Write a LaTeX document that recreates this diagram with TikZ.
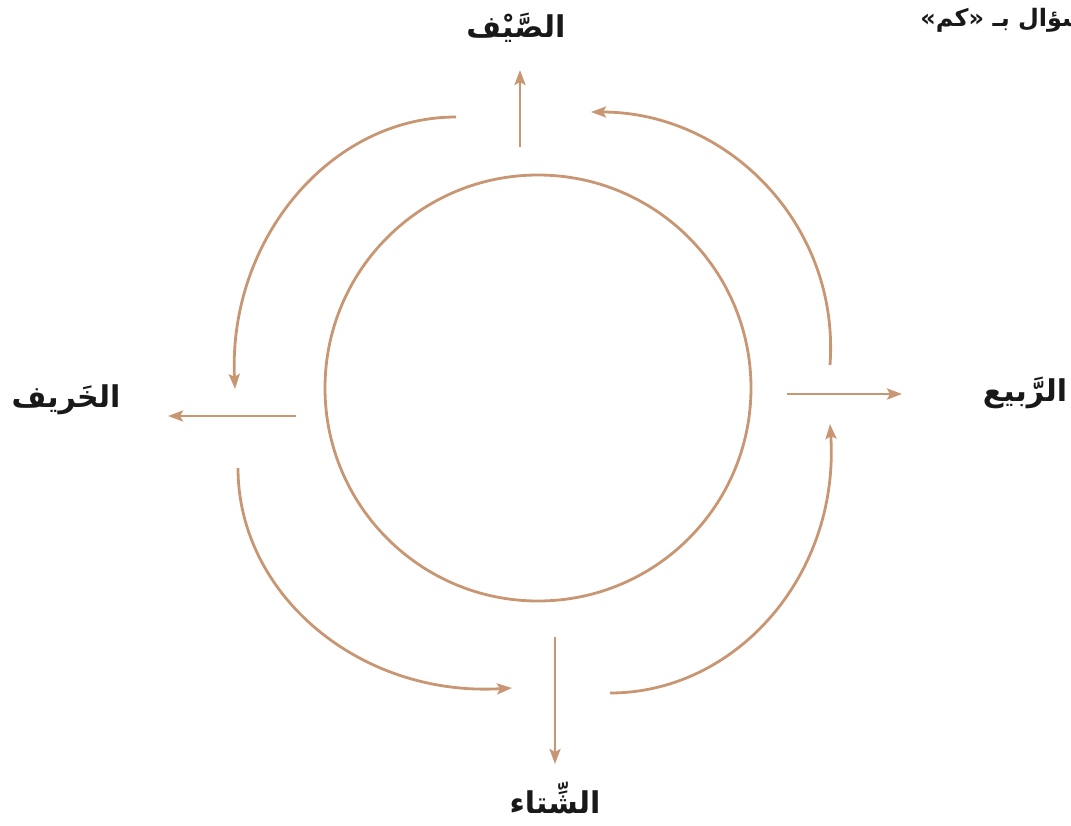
\documentclass[tikz,border=0pt]{standalone}
\usepackage{fontspec}
\usetikzlibrary{arrows.meta}
\TeXXeTstate=1
\newfontfamily\arabicfont[Script=Arabic]{DejaVu Sans}
\definecolor{tan}{RGB}{200,150,114}
\tikzset{
  ring/.style={draw=tan, line width=2.8pt},
  link/.style={draw=tan, line width=2.8pt, -{Stealth[length=15pt,width=11pt,inset=3pt]}},
  season/.style={font=\arabicfont\bfseries\fontsize{30}{36}\selectfont, inner sep=0pt, text=black!90},
  note/.style={font=\arabicfont\bfseries\fontsize{24}{28}\selectfont, inner sep=0pt, text=black!90},
}
\begin{document}
\begin{tikzpicture}[x=1pt,y=-1pt]
\useasboundingbox (0,0) rectangle (1071,825);
% ring
\node[ring, circle, minimum size=426pt, inner sep=0pt] (ring) at (538,388) {};
% labels
\node[season] (summer) at (516,28) {\beginR الصَّيْف\endR};
\node[season] (autumn) at (66,400) {\beginR الخَريف\endR};
\node[season] (spring) at (1025,393) {\beginR الرَّبيع\endR};
\node[season] (winter) at (555,798) {\beginR الشِّتاء\endR};
\node[note, anchor=east] (ask) at (1086,20) {\beginR سؤال بـ «كم»\endR};
% straight arrow ends
\coordinate (uS) at (520,147); \coordinate (uE) at (520,70);
\coordinate (lS) at (296,416); \coordinate (lE) at (168,416);
\coordinate (rS) at (787,394); \coordinate (rE) at (902,394);
\coordinate (dS) at (555,637); \coordinate (dE) at (555,764);
\draw[link] (uS) -- (uE);
\draw[link] (lS) -- (lE);
\draw[link] (rS) -- (rE);
\draw[link] (dS) -- (dE);
% curved arrow ends
\coordinate (tlS) at (456,117); \coordinate (tlE) at (235,389);
\coordinate (trS) at (830,365); \coordinate (trE) at (591,112);
\coordinate (blS) at (238,468); \coordinate (blE) at (512,688);
\coordinate (brS) at (610,693); \coordinate (brE) at (830,424);
\draw[link] (tlS) .. controls (330,117) and (228,240) .. (tlE);
\draw[link] (trS) .. controls (840,225) and (728,112) .. (trE);
\draw[link] (blS) .. controls (238,595) and (360,697) .. (blE);
\draw[link] (brS) .. controls (736,693) and (840,575) .. (brE);
\end{tikzpicture}
\end{document}
